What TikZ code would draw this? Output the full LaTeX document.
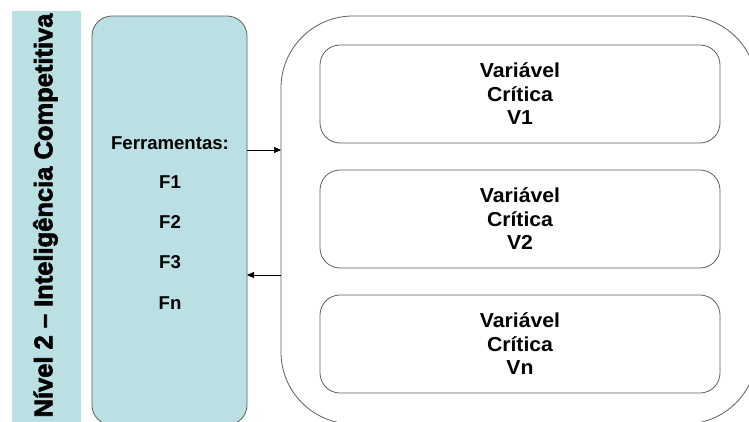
\documentclass[tikz,border=0pt]{standalone}
\usepackage{fontspec}
\setmainfont{Liberation Sans}
\newfontfamily\heavyfont{Liberation Sans}[BoldFeatures={FakeBold=2.5}]
\newfontfamily\widefont{Liberation Sans}[BoldFeatures={FakeStretch=1.05}]
\usetikzlibrary{arrows.meta}
\definecolor{teal1}{RGB}{186,224,227}
\definecolor{edge}{RGB}{95,95,95}
\tikzset{
  panel/.style={draw=edge,line width=0.8pt,rectangle,inner sep=0pt,outer sep=0pt},
  varbox/.style={panel,rounded corners=20pt,minimum width=400pt,minimum height=98pt,
    align=center,font=\widefont\bfseries\fontsize{20.2}{23.5}\selectfont},
  tool/.style={font=\bfseries\fontsize{18.6}{22}\selectfont,inner sep=0pt},
  arr/.style={draw=black,line width=0.7pt,-{Triangle[length=7pt,width=6pt]}}
}
\begin{document}
\begin{tikzpicture}[x=1pt,y=-1pt]
\useasboundingbox (0,0) rectangle (749,421);
\fill[white] (0,0) rectangle (749,421);
% side bar
\node[fill=teal1,minimum width=69pt,minimum height=414pt,inner sep=0pt] (bar) at (46.5,218) {};
\node[rotate=90,font=\heavyfont\bfseries\fontsize{25.5}{30}\selectfont,inner sep=0pt] (title) at (45.5,215.5) {Nível 2 – Inteligência Competitiva};
% tools panel
\node[panel,fill=teal1,rounded corners=20pt,minimum width=155pt,minimum height=409pt] (tools) at (169.5,220.5) {};
\node[tool] (ferr) at (170,143) {Ferramentas:};
\node[tool] (f1) at (170,182) {F1};
\node[tool] (f2) at (170,222) {F2};
\node[tool] (f3) at (170,262) {F3};
\node[tool] (fn) at (170,303) {Fn};
% group panel
\node[panel,rounded corners=72pt,minimum width=476pt,minimum height=408pt] (group) at (519,220) {};
\node[varbox] (v1) at (520,94) {Variável\\Crítica\\V1};
\node[varbox] (v2) at (520,219) {Variável\\Crítica\\V2};
\node[varbox] (vn) at (520,344) {Variável\\Crítica\\Vn};
% arrows
\coordinate (ya) at (0,150);
\coordinate (yb) at (0,275);
\draw[arr] (tools.east |- ya) -- (group.west |- ya);
\draw[arr] (group.west |- yb) -- (tools.east |- yb);
\end{tikzpicture}
\end{document}
